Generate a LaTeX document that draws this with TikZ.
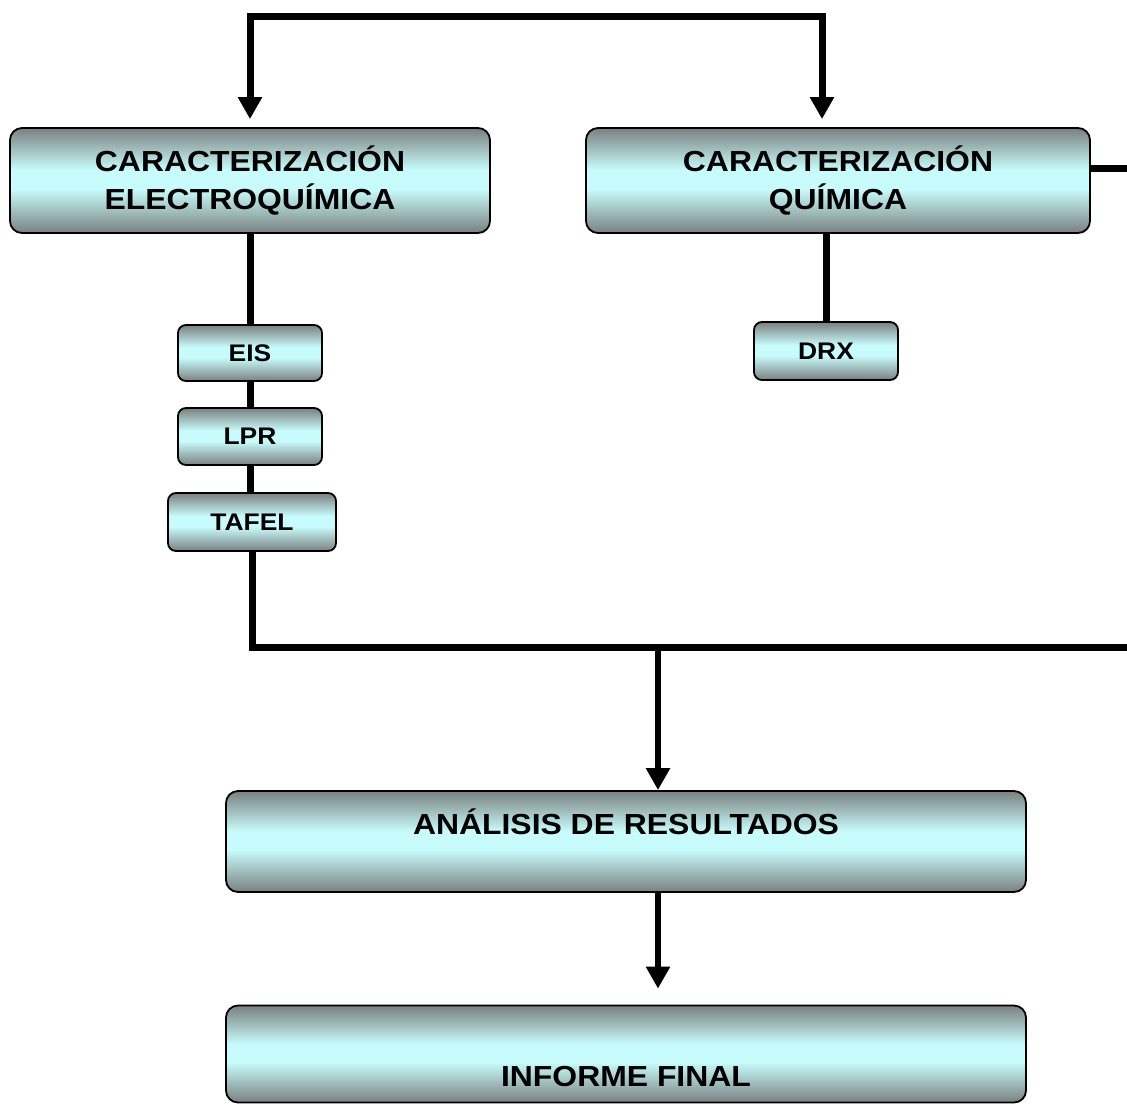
\documentclass[tikz,border=0pt]{standalone}
\usepackage{fontspec}
\newfontfamily\dfont[FakeStretch=1.1]{Liberation Sans}
\usetikzlibrary{arrows.meta}
\definecolor{shg}{RGB}{122,128,128}
\definecolor{shc}{RGB}{200,252,252}
\pgfdeclareverticalshading{boxsh}{100bp}{color(0bp)=(shg); color(25bp)=(shg); color(46bp)=(shc); color(55bp)=(shc); color(75bp)=(shg); color(100bp)=(shg)}
\tikzset{
  box/.style={draw=black, line width=1.8pt, rounded corners=12pt, shading=boxsh,
    inner sep=0pt, align=center, font=\dfont\bfseries\fontsize{29}{38}\selectfont},
  sbox/.style={box, rounded corners=8pt, font=\dfont\bfseries\fontsize{24}{28}\selectfont},
  ln/.style={line width=7pt, line join=miter},
  ln2/.style={line width=6pt},
  tip/.style={-{Triangle[length=22pt,width=23pt]}},
}
\begin{document}
\begin{tikzpicture}[x=1pt,y=-1pt]
\useasboundingbox (0,0) rectangle (1127,1104);
% boxes
\node[box, minimum width=480pt, minimum height=105pt] (ce) at (250,180.5) {CARACTERIZACIÓN\\ELECTROQUÍMICA};
\node[box, minimum width=504pt, minimum height=105pt] (cq) at (838,180.5) {CARACTERIZACIÓN\\QUÍMICA};
\node[sbox, minimum width=144pt, minimum height=56pt] (eis) at (250,353) {EIS};
\node[sbox, minimum width=144pt, minimum height=57pt] (lpr) at (250,436.5) {LPR};
\node[sbox, minimum width=168pt, minimum height=58pt] (tafel) at (252,522) {TAFEL};
\node[sbox, minimum width=144pt, minimum height=58pt] (drx) at (826,351) {DRX};
\node[box, minimum width=800pt, minimum height=101pt,
  label={[anchor=base, yshift=-44.5pt, font=\dfont\bfseries\fontsize{29}{38}\selectfont]north:ANÁLISIS DE RESULTADOS}] (ar) at (626,841.5) {};
\node[box, minimum width=800pt, minimum height=97pt,
  label={[anchor=base, yshift=-81.5pt, font=\dfont\bfseries\fontsize{29}{38}\selectfont]north:INFORME FINAL}] (if) at (626,1054) {};
% coordinates
\coordinate (tl) at (250,16);
\coordinate (tr) at (822,16);
\coordinate (rq) at (1140,168);
\coordinate (bl) at (252,647);
\coordinate (br) at (1140,647);
\coordinate (bm) at (658,647);
% connectors
\draw[ln, {Triangle[length=22pt,width=23pt]}-{Triangle[length=22pt,width=23pt]}, shorten <=8pt, shorten >=8pt]
  (ce.north) -- (tl) -- (tr) -- (tr |- cq.north);
\draw[ln] (ce.south) -- (eis.north);
\draw[ln] (eis.south) -- (lpr.north);
\draw[ln] (lpr.south) -- (lpr.south |- tafel.north);
\draw[ln] (tafel.south) -- (bl) -- (br);
\draw[ln] (rq -| cq.east) -- (rq);
\draw[ln] (drx.north |- cq.south) -- (drx.north);
\draw[ln2, tip] (bm) -- (bm |- ar.north);
\draw[ln2, tip, shorten >=16pt] (bm |- ar.south) -- (bm |- if.north);
\end{tikzpicture}
\end{document}
